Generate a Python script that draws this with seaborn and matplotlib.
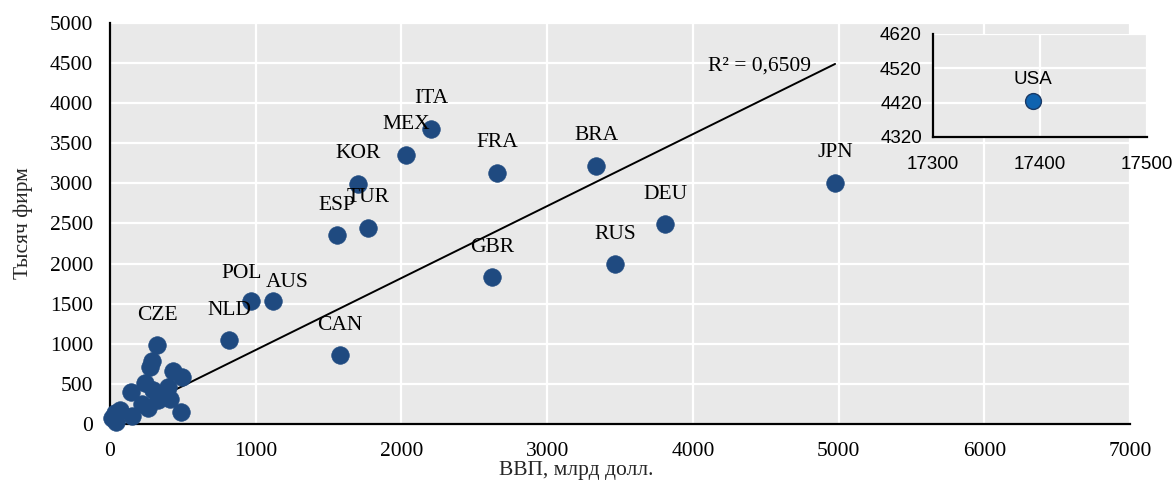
import numpy as np
import pandas as pd
import matplotlib
matplotlib.use("Agg")
import matplotlib.pyplot as plt
import seaborn as sns

# GDP (bn USD) and number of firms (thousands) by country
labeled_codes = ["ITA", "MEX", "KOR", "FRA", "BRA", "JPN", "DEU", "RUS", "GBR",
                 "ESP", "TUR", "POL", "AUS", "NLD", "CAN", "CZE"]
labeled_gdp = [2203, 2032, 1702, 2656, 3336, 4976, 3809, 3466, 2622,
               1558, 1771, 968, 1119, 817, 1579, 323]
labeled_firms = [3682, 3358, 2998, 3134, 3221, 3010, 2488, 1990, 1828,
                 2351, 2450, 1530, 1530, 1045, 858, 985]

other_gdp = [285, 275, 432, 494, 240, 144, 295, 398, 412, 329, 220, 261,
             487, 69, 151, 34, 14, 41]
other_firms = [780, 705, 660, 585, 510, 400, 425, 460, 310, 298, 250, 200,
               150, 175, 100, 137, 75, 30]

usa_gdp = [17393]
usa_firms = [4425]

# linear trend (as published with the chart)
trend_slope = 0.897
trend_intercept = 26
r2_text = "R² = 0,6509"

df = pd.DataFrame({
    "gdp": labeled_gdp + other_gdp,
    "firms": labeled_firms + other_firms,
})
trend_x = np.array([df["gdp"].min(), df["gdp"].max()])
trend = pd.DataFrame({"gdp": trend_x,
                      "firms": trend_intercept + trend_slope * trend_x})

sns.set_style("white")
serif = ["Liberation Serif", "DejaVu Serif"]
sans = ["Liberation Sans", "DejaVu Sans"]
plt.rcParams["font.family"] = serif

DPI = 100
W, H = 1173, 483
fig = plt.figure(figsize=(W / DPI, H / DPI), dpi=DPI)

GRID_BG = "#E9E9E9"
DOT = "#1F4A80"
FS = 15.5

def px_box(x0, y0, x1, y1):
    return [x0 / W, 1 - y1 / H, (x1 - x0) / W, (y1 - y0) / H]

ax = fig.add_axes(px_box(110, 23, 1130, 424))
ax.set_facecolor(GRID_BG)

sns.lineplot(data=trend, x="gdp", y="firms", ax=ax, color="black", lw=1.4,
             zorder=2)
sns.scatterplot(data=df, x="gdp", y="firms", ax=ax, s=160, color=DOT,
                edgecolor=DOT, linewidth=0.5, zorder=3, clip_on=False)

ax.set_xlim(0, 7000)
ax.set_ylim(0, 5000)
ax.set_xticks(np.arange(0, 7001, 1000))
ax.set_yticks(np.arange(0, 5001, 500))
ax.grid(True, color="white", lw=1.6, zorder=0)
ax.set_axisbelow(True)
for side in ["top", "right"]:
    ax.spines[side].set_visible(False)
for side in ["left", "bottom"]:
    ax.spines[side].set_color("black")
    ax.spines[side].set_linewidth(1.6)
ax.tick_params(axis="both", direction="in", length=4, width=1.4,
               labelsize=FS, colors="black")
ax.tick_params(axis="y", pad=12)
ax.tick_params(axis="x", pad=13)
ax.set_xlabel("ВВП, млрд долл.", fontsize=FS)
ax.xaxis.set_label_coords(0.457, -0.093)
ax.set_ylabel("Тысяч фирм", fontsize=FS, labelpad=12)

# country labels above points (offsets in pixels)
special = {"POL": (-9, 28), "AUS": (14, 19)}
for code, gx, fy in zip(labeled_codes, labeled_gdp, labeled_firms):
    dx, dy = special.get(code, (0, 30))
    ax.annotate(code, (gx, fy), xytext=(dx * 72 / DPI, dy * 72 / DPI),
                textcoords="offset points", ha="center", va="center",
                fontsize=FS, color="black", zorder=4)

ax.text(4811, 4465, r2_text, ha="right", va="center", fontsize=FS,
        color="black")

# inset for USA
ins = fig.add_axes(px_box(933, 34, 1147, 137))
ins.set_facecolor(GRID_BG)
sns.scatterplot(x=usa_gdp, y=usa_firms, ax=ins, s=130, color="#0F63B0",
                edgecolor="#1A3A66", linewidth=1.0, zorder=3)
ins.annotate("USA", (usa_gdp[0], usa_firms[0]), xytext=(0, 21 * 72 / DPI),
             textcoords="offset points", ha="center", va="center",
             fontsize=13.5, family=sans, color="black")
ins.set_xlim(17300, 17500)
ins.set_ylim(4320, 4620)
ins.set_xticks([17300, 17400, 17500])
ins.set_yticks([4320, 4420, 4520, 4620])
ins.grid(True, color="white", lw=1.6, zorder=0)
ins.set_axisbelow(True)
for side in ["top", "right"]:
    ins.spines[side].set_visible(False)
for side in ["left", "bottom"]:
    ins.spines[side].set_color("black")
    ins.spines[side].set_linewidth(1.6)
ins.tick_params(axis="both", direction="in", length=4, width=1.4,
                labelsize=13.5, colors="black")
ins.tick_params(axis="y", pad=8)
ins.tick_params(axis="x", pad=14)
for lab in ins.get_xticklabels() + ins.get_yticklabels():
    lab.set_family(sans)
ins.set_xlabel("")
ins.set_ylabel("")

fig.savefig("out.png", dpi=DPI)
